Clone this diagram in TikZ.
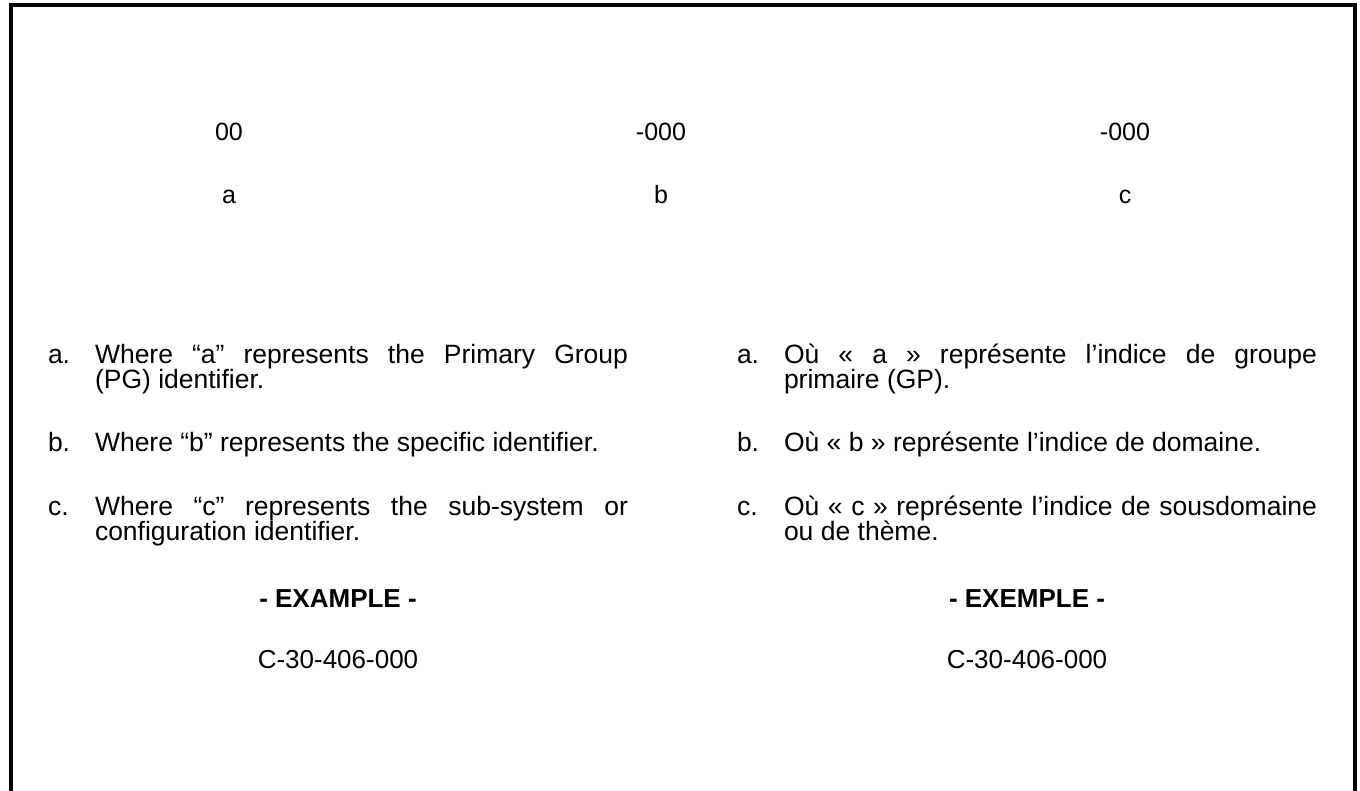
\documentclass[tikz,border=0pt]{standalone}
\usepackage{fontspec}
\setmainfont{Liberation Sans}
\begin{document}
\begin{tikzpicture}[x=1pt,y=-1pt,
  every node/.style={inner sep=0pt,outer sep=0pt},
  fr/.style={line width=4pt,line cap=rect},
  top/.style={font=\fontsize{25}{28}\selectfont,anchor=base},
  itemlbl/.style={font=\fontsize{26.5}{30}\selectfont,anchor=base west},
  itemtxt/.style={font=\fontsize{26.5}{30}\selectfont,anchor=base west},
  ctr/.style={font=\fontsize{26}{30}\selectfont,anchor=base},
  ctrb/.style={font=\fontsize{26}{30}\selectfont\bfseries,anchor=base}]
\useasboundingbox (0,0) rectangle (1360,790);
% frame, open at the bottom
\coordinate (bl) at (10.5,792);
\coordinate (tl) at (10.5,5.3);
\coordinate (tr) at (1354.7,5.3);
\coordinate (br) at (1354.7,792);
\draw[fr] (bl) -- (tl) -- (tr) -- (br);
% top code
\node[top] (n1) at (229,140) {00};
\node[top] (n2) at (661,140) {-000};
\node[top] (n3) at (1125,140) {-000};
\node[top] (l1) at (229,203) {a};
\node[top] (l2) at (661,203) {b};
\node[top] (l3) at (1125,203) {c};
% left column
\node[itemlbl] (ea) at (48,363) {a.};
\node[itemtxt] (ea1) at (95,363) {\makebox[533pt][s]{Where “a” represents the Primary Group}};
\node[itemtxt] (ea2) at (95,388) {(PG) identifier.};
\node[itemlbl] (eb) at (48,451) {b.};
\node[itemtxt] (eb1) at (95,451) {Where “b” represents the specific identifier.};
\node[itemlbl] (ec) at (48,515) {c.};
\node[itemtxt] (ec1) at (95,515) {\makebox[533pt][s]{Where “c” represents the sub-system or}};
\node[itemtxt] (ec2) at (95,540) {configuration identifier.};
\node[ctrb] (ex) at (338,607) {- EXAMPLE -};
\node[ctr] (exc) at (338,668) {C-30-406-000};
% right column
\node[itemlbl] (fa) at (737,363) {a.};
\node[itemtxt] (fa1) at (784,363) {\makebox[533pt][s]{Où « a » représente l’indice de groupe}};
\node[itemtxt] (fa2) at (784,388) {primaire (GP).};
\node[itemlbl] (fb) at (737,451) {b.};
\node[itemtxt] (fb1) at (784,451) {Où « b » représente l’indice de domaine.};
\node[itemlbl] (fc) at (737,515) {c.};
\node[itemtxt] (fc1) at (784,515) {\makebox[533pt][s]{Où « c » représente l’indice de sousdomaine}};
\node[itemtxt] (fc2) at (784,540) {ou de thème.};
\node[ctrb] (fx) at (1027,607) {- EXEMPLE -};
\node[ctr] (fxc) at (1027,668) {C-30-406-000};
\end{tikzpicture}
\end{document}
